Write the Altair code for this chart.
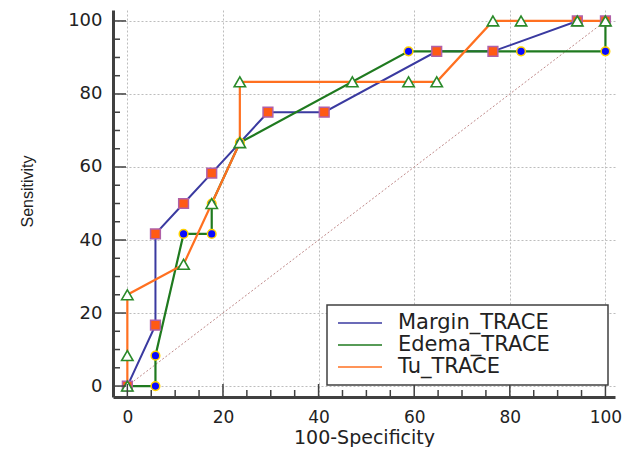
import altair as alt
import pandas as pd

series = ["Margin_TRACE", "Edema_TRACE", "Tu_TRACE"]
line_colors = ["#3a3aa0", "#1f7a1f", "#ff7020"]

margin_x = [0, 5.88, 5.88, 11.76, 17.65, 29.41, 41.18, 64.71, 76.47, 94.12, 100]
margin_y = [0, 16.67, 41.67, 50, 58.33, 75, 75, 91.67, 91.67, 100, 100]

edema_x = [0, 5.88, 5.88, 11.76, 17.65, 17.65, 23.53, 58.82, 82.35, 100, 100]
edema_y = [0, 0, 8.33, 41.67, 41.67, 50, 66.67, 91.67, 91.67, 91.67, 100]

tu_x = [0, 0, 0, 11.76, 17.65, 23.53, 23.53, 47.06, 58.82, 64.71, 76.47, 82.35, 94.12, 100]
tu_y = [0, 8.33, 25, 33.33, 50, 66.67, 83.33, 83.33, 83.33, 83.33, 100, 100, 100, 100]

diag_x = [0, 100]
diag_y = [0, 100]

major_ticks = [0, 20, 40, 60, 80, 100]
minor_ticks = [5, 10, 15, 25, 30, 35, 45, 50, 55, 65, 70, 75, 85, 90, 95]

W, H = 502, 387
LEFT = 105

rows = []
for name, xs, ys in zip(series, [margin_x, edema_x, tu_x], [margin_y, edema_y, tu_y]):
    for i, (a, b) in enumerate(zip(xs, ys)):
        rows.append({"series": name, "x": a, "y": b, "order": i})
df = pd.DataFrame(rows)

FONT = "DejaVu Sans"
xscale = alt.Scale(domain=[-3, 102], nice=False, zero=False)
yscale = alt.Scale(domain=[-3, 103], nice=False, zero=False)

xaxis = alt.Axis(title="100-Specificity", values=major_ticks, grid=True, ticks=False, tickSize=0,
                 domainColor="#404040", domainWidth=3, gridColor="#bdbdbd", gridDash=[2, 2],
                 gridWidth=1, labelFont=FONT, labelFontSize=17, labelColor="#222222",
                 labelPadding=12, labelFlush=False, labelOverlap=False,
                 titleFont=FONT, titleFontSize=19, titleFontWeight="normal", titleColor="#222222",
                 titleY=40, titleBaseline="middle")
yaxis = alt.Axis(title="Sensitivity", values=major_ticks, grid=True, ticks=False, tickSize=0,
                 domainColor="#404040", domainWidth=3, gridColor="#bdbdbd", gridDash=[2, 2],
                 gridWidth=1, labelFont=FONT, labelFontSize=18, labelColor="#222222",
                 labelPadding=11, labelFlush=False, labelOverlap=False,
                 titleFont="Liberation Sans", titleFontSize=16, titleFontWeight="normal",
                 titleColor="#222222", titleX=-86, titleY=181, titleAlign="center",
                 titleBaseline="middle", titleAngle=-90)

X = alt.X("x:Q", scale=xscale, axis=xaxis)
Y = alt.Y("y:Q", scale=yscale, axis=yaxis)

base = alt.Chart(df)

diag = alt.Chart(pd.DataFrame({"x": diag_x, "y": diag_y})).mark_line(
    color="#c08a8a", strokeWidth=1, strokeDash=[2, 2]).encode(x=X, y=Y)

lines = []
for name, col, w in zip(series, line_colors, [2, 2.2, 2.2]):
    lines.append(base.transform_filter(alt.datum.series == name).mark_line(
        color=col, strokeWidth=w).encode(x=X, y=Y, order="order:Q"))

circles = base.transform_filter(alt.datum.series == series[1]).mark_point(
    shape="circle", filled=True, fill="#0a0aff", stroke="#ffd200", strokeWidth=1.5,
    size=75, opacity=1).encode(x=X, y=Y)
squares = base.transform_filter(alt.datum.series == series[0]).mark_point(
    shape="square", filled=True, fill="#ff5a14", stroke="#b060a8", strokeWidth=1.5,
    size=95, opacity=1).encode(x=X, y=Y)
triangles = base.transform_filter(alt.datum.series == series[2]).mark_point(
    shape="triangle-up", filled=True, fill="white", stroke="#2a8a2a", strokeWidth=1.6,
    size=130, opacity=1).encode(x=X, y=Y)

tick_layers = []
for vals, ln in [(major_ticks, 13), (minor_ticks, 7)]:
    tdf = pd.DataFrame({"x": vals, "y": vals})
    tick_layers.append(alt.Chart(tdf).mark_rule(color="#404040", strokeWidth=1.5).encode(
        y=Y, x=alt.value(0), x2=alt.value(ln)))
    tick_layers.append(alt.Chart(tdf).mark_rule(color="#404040", strokeWidth=1.5).encode(
        x=X, y=alt.value(H), y2=alt.value(H - ln)))

one = pd.DataFrame({"k": [0]})
legend_box = alt.Chart(one).mark_rect(fill="white", stroke="#404040", strokeWidth=1.5).encode(
    x=alt.value(214), x2=alt.value(495), y=alt.value(295), y2=alt.value(375))

leg_df = pd.DataFrame({"series": series, "color": line_colors})
legend_layers = []
for i, (name, col) in enumerate(zip(series, line_colors)):
    py = 313 + 22 * i
    sub = alt.Chart(leg_df).transform_filter(alt.datum.series == name)
    legend_layers.append(sub.mark_rule(color=col, strokeWidth=1.5).encode(
        x=alt.value(225), x2=alt.value(269), y=alt.value(py)))
    legend_layers.append(sub.mark_text(align="left", baseline="middle", font=FONT,
                                       fontSize=21, color="#222222").encode(
        x=alt.value(285), y=alt.value(py), text="series:N"))

chart = alt.layer(diag, *lines, circles, squares, triangles, *tick_layers, legend_box,
                  *legend_layers).properties(
    width=W, height=H,
    autosize=alt.AutoSizeParams(type="none"),
    padding={"left": LEFT, "top": 2, "right": 614 - LEFT - W, "bottom": 50},
    background="white",
).configure_view(stroke=None)

chart.save("out.html", embed_options={"renderer": "svg", "actions": False})
